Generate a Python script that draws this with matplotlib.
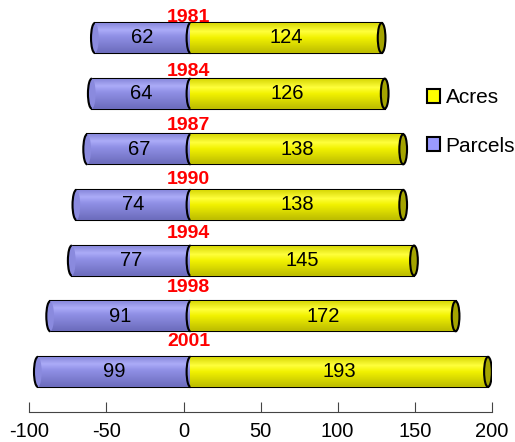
import numpy as np
import matplotlib.pyplot as plt
from matplotlib.patches import Ellipse, Arc, Patch
from matplotlib.colors import LinearSegmentedColormap

years = ['1981', '1984', '1987', '1990', '1994', '1998', '2001']
parcels = [62, 64, 67, 74, 77, 91, 99]
acres = [124, 126, 138, 138, 145, 172, 193]

plt.rcParams['font.family'] = ['Liberation Sans', 'DejaVu Sans']
plt.rcParams['axes.unicode_minus'] = False

fig = plt.figure(figsize=(5.15, 4.42), dpi=100)
ax = fig.add_axes([0.057, 0.068, 0.898, 0.909])

offset = 4.5      # 3d depth shift of the cylinders
bh = 0.54         # bar height
cap_w = 5.0       # ellipse cap width in data units

parcel_cmap = LinearSegmentedColormap.from_list(
    'p', [(0, '#8484d8'), (0.25, '#acacf8'), (0.45, '#9090e6'), (1, '#6c6cbc')])
acre_cmap = LinearSegmentedColormap.from_list(
    'a', [(0, '#d4d400'), (0.3, '#ffff3c'), (0.5, '#f2f200'), (1, '#bcbc00')])
grad = np.linspace(0, 1, 64).reshape(-1, 1)

y = np.arange(len(years))

def shade(bar, cmap):
    x0, y0 = bar.get_x(), bar.get_y()
    w, h = bar.get_width(), bar.get_height()
    im = ax.imshow(grad, cmap=cmap, aspect='auto', origin='upper',
                   extent=(x0, x0 + w, y0 + h, y0), zorder=2,
                   interpolation='bilinear')
    im.set_clip_path(bar)

pbars = ax.barh(y, [-p for p in parcels], left=offset, height=bh,
                color='#9999ff', edgecolor='black', linewidth=1.5, zorder=2)
abars = ax.barh(y, acres, left=offset, height=bh,
                color='#ffff00', edgecolor='black', linewidth=1.5, zorder=2)

for i in range(len(years)):
    shade(pbars[i], parcel_cmap)
    shade(abars[i], acre_cmap)
    left = offset - parcels[i]
    right = offset + acres[i]
    # rounded left end of the parcels cylinder
    ax.add_patch(Ellipse((left, y[i]), cap_w, bh, facecolor='#8a8ade',
                         edgecolor='none', zorder=3))
    ax.add_patch(Arc((left, y[i]), cap_w, bh, theta1=90, theta2=270,
                     color='black', linewidth=1.5, zorder=4))
    # seam between the two parts
    ax.add_patch(Arc((offset, y[i]), cap_w, bh, theta1=90, theta2=270,
                     color='black', linewidth=1.5, zorder=4))
    # end cap of the acres cylinder
    ax.add_patch(Ellipse((right, y[i]), cap_w, bh, facecolor='#a4a400',
                         edgecolor='black', linewidth=1.5, zorder=4))
    ax.text(offset - parcels[i] / 2, y[i], str(parcels[i]), ha='center',
            va='center', fontsize=14.5, color='black', zorder=5)
    ax.text(offset + acres[i] / 2, y[i], str(acres[i]), ha='center',
            va='center', fontsize=14.5, color='black', zorder=5)
    ax.text(3.4, y[i] * 0.971 - 0.367, years[i], ha='center', va='center',
            fontsize=14, fontweight='bold', color='#ff0000', zorder=6)

ax.set_xlim(-100, 200)
ax.set_ylim(6.72, -0.5)
ax.set_xticks([-100, -50, 0, 50, 100, 150, 200])
ax.set_yticks([])
for s in ['top', 'right', 'left']:
    ax.spines[s].set_visible(False)
ax.spines['bottom'].set_color('#444444')
ax.tick_params(axis='x', direction='in', length=7, color='#444444',
               labelsize=14.5, pad=7)

handles = [Patch(facecolor='#ffff00', edgecolor='black', linewidth=1.5),
           Patch(facecolor='#9999ff', edgecolor='black', linewidth=1.5)]
fig.legend(handles, ['Acres', 'Parcels'], loc='upper left',
           bbox_to_anchor=(0.829, 0.80), frameon=False, fontsize=15,
           handlelength=0.65, handleheight=0.65, handletextpad=0.25,
           labelspacing=1.4, borderpad=0, borderaxespad=0)

fig.savefig('out.png', dpi=100)
